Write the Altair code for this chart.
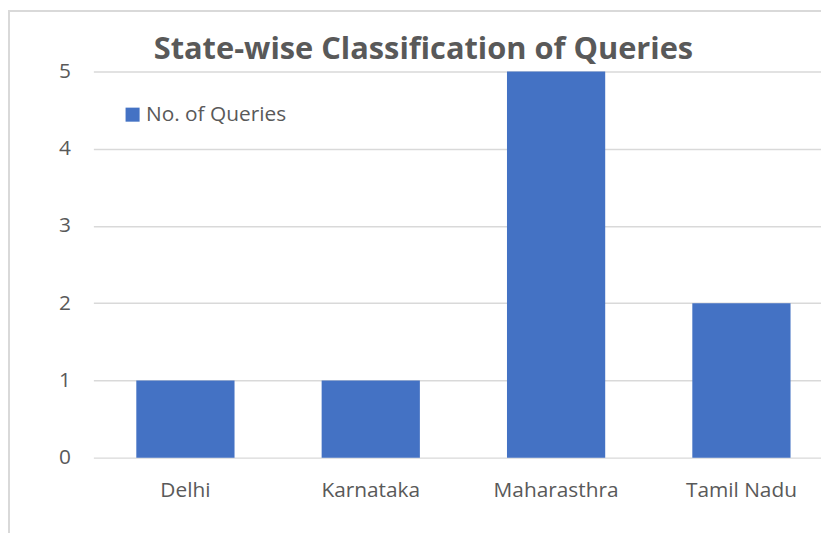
import altair as alt
import pandas as pd

states = ["Delhi", "Karnataka", "Maharasthra", "Tamil Nadu"]
queries = [1, 1, 5, 2]
series_name = "No. of Queries"
y_ticks = [0, 1, 2, 3, 4, 5]

df = pd.DataFrame({"State": states, "Queries": queries, "Series": [series_name] * len(states)})

W = 733
H = 389
PAD_L = 86
PAD_T = 62
PAD_B = 76
TEXT = "#595959"
GRID = "#d9d9d9"
FONT = "Open Sans"
FS = 21

bars = alt.Chart(df).mark_bar(color="#4472C4").encode(
    x=alt.X("State:N", sort=states, title=None,
            scale=alt.Scale(paddingInner=0.47, paddingOuter=0.198, align=0.585),
            axis=alt.Axis(labelAngle=0, ticks=False, domain=False, labelPadding=22,
                          labelFontSize=FS, labelColor=TEXT, labelFont=FONT)),
    y=alt.Y("Queries:Q", title=None,
            scale=alt.Scale(domain=[0, 5], nice=False),
            axis=alt.Axis(values=y_ticks, ticks=False, domain=False, labelPadding=23,
                          labelFontSize=FS, labelColor=TEXT, labelFont=FONT,
                          gridColor=GRID, gridWidth=1.5)),
    color=alt.Color("Series:N", scale=alt.Scale(range=["#4472C4"]),
                    legend=alt.Legend(title=None, orient="none", legendX=29, legendY=33,
                                      symbolType="square", symbolSize=200, symbolStrokeWidth=0,
                                      labelFontSize=FS, labelColor=TEXT, labelFont=FONT,
                                      padding=0, labelOffset=3)),
)

frame_top = alt.Chart(df).mark_rule(color=GRID, strokeWidth=2).encode(
    x=alt.value(-PAD_L), x2=alt.value(W), y=alt.value(-PAD_T + 1))
frame_left = alt.Chart(df).mark_rule(color=GRID, strokeWidth=2).encode(
    x=alt.value(-PAD_L + 1), y=alt.value(-PAD_T), y2=alt.value(H + PAD_B))

chart = alt.layer(frame_top, frame_left, bars).properties(
    width=W, height=H,
    autosize="none",
    padding={"left": PAD_L, "top": PAD_T, "right": 0, "bottom": PAD_B},
    title=alt.TitleParams("State-wise Classification of Queries", anchor="middle",
                          font=FONT, fontSize=31, fontWeight="bold", color=TEXT,
                          dx=-34, dy=81, offset=0, baseline="alphabetic"),
).configure_view(stroke=None)

chart.save("out.html", embed_options={"renderer": "svg", "actions": False})
